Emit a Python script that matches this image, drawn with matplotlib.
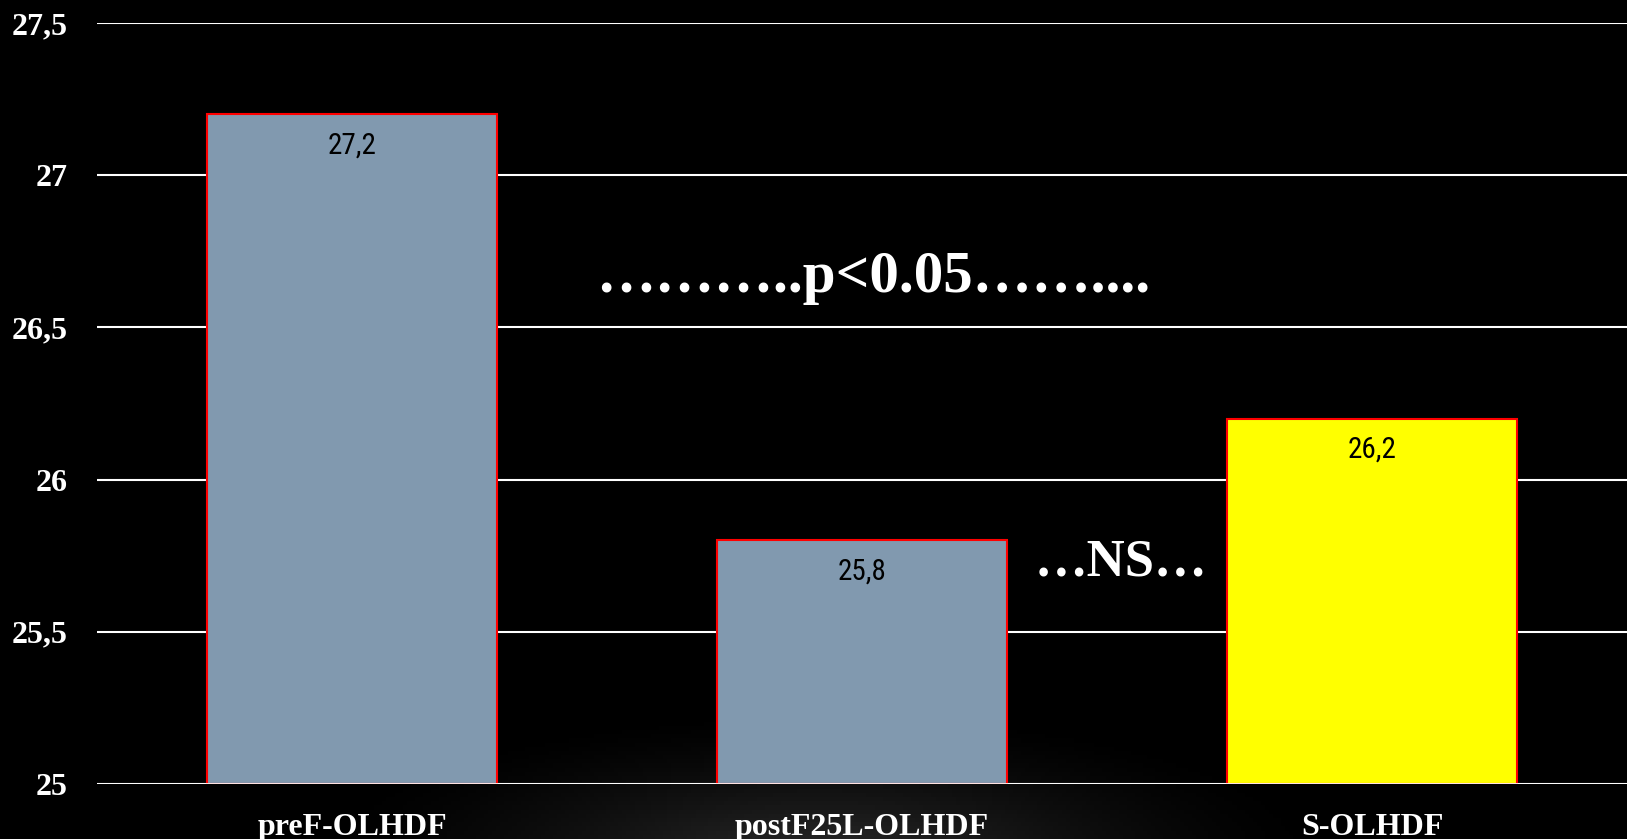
import matplotlib.pyplot as plt
import numpy as np

groups = ["preF-OLHDF", "postF25L-OLHDF", "S-OLHDF"]
values = [27.2, 25.8, 26.2]
labels = ["27,2", "25,8", "26,2"]
colors = ["#8199af", "#8199af", "#ffff00"]
yticks = [25, 25.5, 26, 26.5, 27, 27.5]
ytick_labels = ["25", "25,5", "26", "26,5", "27", "27,5"]

serif = ["Liberation Serif", "DejaVu Serif"]
narrow = ["Liberation Sans Narrow", "Roboto Condensed", "Open Sans Condensed",
          "DejaVu Sans Condensed", "Roboto"]

fig = plt.figure(figsize=(16.27, 8.39), dpi=100, facecolor="black")

# soft glow behind the category labels
bg = fig.add_axes([0, 0, 1, 1], zorder=-10)
gx, gy = np.meshgrid(np.linspace(0, 1627, 400), np.linspace(0, 839, 200))
r = np.sqrt(((gx - 820) / 520) ** 2 + ((gy + 20) / 150) ** 2)
glow = np.clip(1 - r, 0, 1) ** 1.5 * 0.17
bg.imshow(glow, cmap="gray", vmin=0, vmax=1, extent=[0, 1627, 0, 839],
          origin="lower", aspect="auto")
bg.axis("off")

ax = fig.add_axes([97 / 1627, 55 / 839, 1 - 97 / 1627, (784 - 23) / 839])
ax.patch.set_alpha(0)
x = np.arange(len(groups))
ax.bar(x, [v - 25 for v in values], bottom=25, width=0.57, color=colors,
       edgecolor="#ff0000", linewidth=1.5, zorder=3)
for xi, v, lab in zip(x, values, labels):
    ax.annotate(lab, (xi, v), xytext=(0, -31), textcoords="offset pixels",
                ha="center", va="center", fontsize=21, color="black",
                family=narrow, zorder=4)

ax.set_xlim(-0.5, 2.5)
ax.set_ylim(25, 27.5)
ax.set_yticks(yticks)
ax.set_yticklabels(ytick_labels)
ax.set_xticks(x)
ax.set_xticklabels(groups)
ax.grid(axis="y", color="white", linewidth=1.5, zorder=1)
ax.set_axisbelow(True)
ax.axhline(25, color="white", linewidth=2, zorder=5)
for s in ax.spines.values():
    s.set_visible(False)
ax.tick_params(axis="y", length=0, pad=21, colors="white")
ax.tick_params(axis="x", length=0, pad=21, colors="white")
for t in ax.get_yticklabels() + ax.get_xticklabels():
    t.set_fontfamily(serif)
    t.set_fontweight("bold")
    t.set_fontsize(23)

fig.text(873 / 1627, 1 - 278 / 839, "\u2026\u2026\u2026..p<0.05\u2026\u2026....",
         ha="center", va="center", color="white", fontsize=42.5,
         fontweight="bold", family=serif)
fig.text(1121 / 1627, 1 - 562 / 839, "\u2026NS\u2026",
         ha="center", va="center", color="white", fontsize=38,
         fontweight="bold", family=serif)

fig.savefig("out.png", dpi=100, facecolor="black")
